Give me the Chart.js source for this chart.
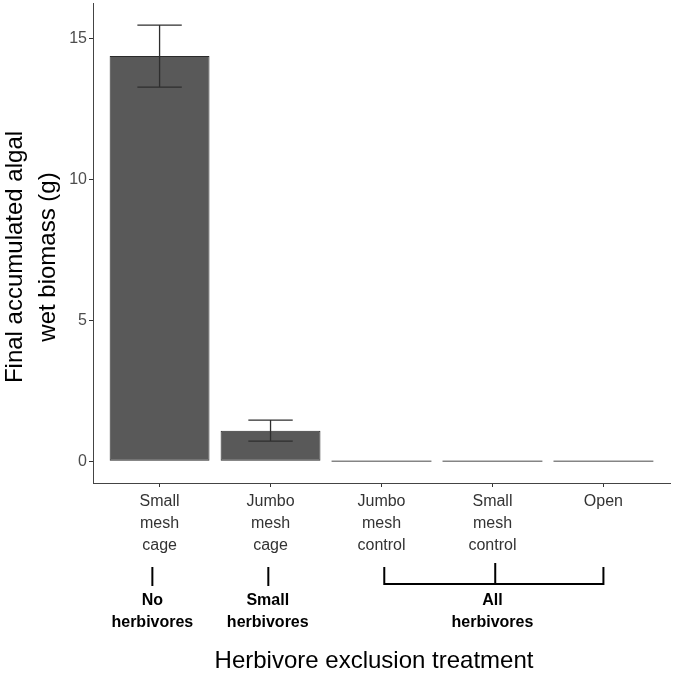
<!DOCTYPE html>
<html>
<head>
<meta charset="utf-8">
<script src="https://cdn.jsdelivr.net/npm/chart.js@4"></script>
<style>
  body { margin: 0; background: #fff; }
  #wrap { width: 675px; height: 673px; }
</style>
</head>
<body>
<div id="wrap"><canvas id="myChart" width="675" height="673"></canvas></div>
<script>
// treatments, in plot order
const treatments = [
  ['Small', 'mesh', 'cage'],
  ['Jumbo', 'mesh', 'cage'],
  ['Jumbo', 'mesh', 'control'],
  ['Small', 'mesh', 'control'],
  ['Open']
];
const positions = [1, 2, 3, 4, 5];
const biomass = [14.39, 1.08, 0, 0, 0];
const errLow = [13.29, 0.71, null, null, null];
const errHigh = [15.49, 1.46, null, null, null];
const yTicks = [0, 5, 10, 15];

// herbivore groups under the axis (x in data units)
const groups = [
  { lines: ['No', 'herbivores'], from: 0.935, to: 0.935, mid: 0.935, text: 0.935 },
  { lines: ['Small', 'herbivores'], from: 1.98, to: 1.98, mid: 1.98, text: 1.975 },
  { lines: ['All', 'herbivores'], from: 3.025, to: 5.0, mid: 4.025, text: 4.0 }
];

const FONT = '"Liberation Sans", Arial, sans-serif';
const darkFill = '#595959';
const zeroFill = '#858585';

const errorBars = {
  id: 'errorBars',
  afterDatasetsDraw(chart) {
    const ctx = chart.ctx;
    const y = chart.scales.y, x = chart.scales.x;
    ctx.save();
    ctx.strokeStyle = '#2e2e2e';
    ctx.lineWidth = 1.3;
    positions.forEach((p, i) => {
      if (errLow[i] == null) return;
      const cx = x.getPixelForValue(p);
      const half = x.getPixelForValue(p + 0.2) - cx;
      const yl = y.getPixelForValue(errLow[i]);
      const yh = y.getPixelForValue(errHigh[i]);
      ctx.beginPath();
      ctx.moveTo(cx, yl); ctx.lineTo(cx, yh);
      ctx.moveTo(cx - half, yl); ctx.lineTo(cx + half, yl);
      ctx.moveTo(cx - half, yh); ctx.lineTo(cx + half, yh);
      ctx.stroke();
    });
    ctx.restore();
  }
};

const annotations = {
  id: 'annotations',
  afterDraw(chart) {
    const ctx = chart.ctx;
    const x = chart.scales.x;
    const base = chart.chartArea.bottom;
    ctx.save();
    ctx.strokeStyle = '#000';
    ctx.lineWidth = 2;
    ctx.fillStyle = '#000';
    ctx.font = 'bold 16px ' + FONT;
    ctx.textAlign = 'center';
    ctx.textBaseline = 'middle';
    groups.forEach(g => {
      const x0 = x.getPixelForValue(g.from);
      const x1 = x.getPixelForValue(g.to);
      const xm = x.getPixelForValue(g.mid);
      ctx.beginPath();
      if (g.from === g.to) {
        ctx.moveTo(xm, base + 84); ctx.lineTo(xm, base + 103);
      } else {
        ctx.moveTo(x0, base + 84); ctx.lineTo(x0, base + 101);
        ctx.lineTo(x1, base + 101); ctx.lineTo(x1, base + 84);
        ctx.moveTo(xm, base + 80); ctx.lineTo(xm, base + 101);
      }
      ctx.stroke();
      const xt = x.getPixelForValue(g.text);
      ctx.fillText(g.lines[0], xt, base + 118);
      ctx.fillText(g.lines[1], xt, base + 140);
    });

    // axis titles
    ctx.fillStyle = '#000';
    ctx.font = '24px ' + FONT;
    ctx.fillText('Herbivore exclusion treatment', 374, 661);
    ctx.save();
    ctx.translate(15, 257);
    ctx.rotate(-Math.PI / 2);
    ctx.fillText('Final accumulated algal', 0, 0);
    ctx.restore();
    ctx.save();
    ctx.translate(48, 257);
    ctx.rotate(-Math.PI / 2);
    ctx.fillText('wet biomass (g)', 0, 0);
    ctx.restore();
    ctx.restore();
  }
};

const ctx = document.getElementById('myChart').getContext('2d');
new Chart(ctx, {
  type: 'bar',
  data: {
    datasets: [{
      data: positions.map((p, i) => ({ x: p, y: biomass[i] })),
      backgroundColor: biomass.map(v => v === 0 ? zeroFill : darkFill),
      borderColor: '#2b2b2b',
      borderWidth: biomass.map(v => v === 0 ? 0 : 1),
      borderSkipped: false,
      minBarLength: 1.6,
      barPercentage: 0.9,
      categoryPercentage: 1.0
    }]
  },
  options: {
    responsive: false,
    animation: false,
    layout: { padding: { left: 0, right: 5, top: 3, bottom: 0 } },
    plugins: { legend: { display: false }, tooltip: { enabled: false } },
    scales: {
      x: {
        type: 'linear',
        min: 0.4,
        max: 5.6,
        offset: false,
        afterBuildTicks: s => { s.ticks = positions.map(v => ({ value: v })); },
        afterFit: s => { s.height = 190; s.paddingLeft = 0; s.paddingRight = 0; },
        grid: { drawOnChartArea: false, tickLength: 4, color: '#333', offset: false },
        border: { color: '#444', width: 1 },
        ticks: {
          autoSkip: false,
          maxRotation: 0,
          padding: 4,
          color: '#333',
          font: { family: FONT, size: 16, lineHeight: 1.375 },
          callback: v => treatments[v - 1]
        }
      },
      y: {
        min: -0.775,
        max: 16.275,
        afterBuildTicks: s => { s.ticks = yTicks.map(v => ({ value: v })); },
        afterFit: s => { s.width = 93; s.paddingTop = 0; s.paddingBottom = 0; },
        grid: { drawOnChartArea: false, tickLength: 4, color: '#333' },
        border: { color: '#444', width: 1 },
        ticks: {
          padding: 2,
          color: '#4d4d4d',
          font: { family: FONT, size: 16 }
        }
      }
    }
  },
  plugins: [errorBars, annotations]
});
</script>
</body>
</html>
